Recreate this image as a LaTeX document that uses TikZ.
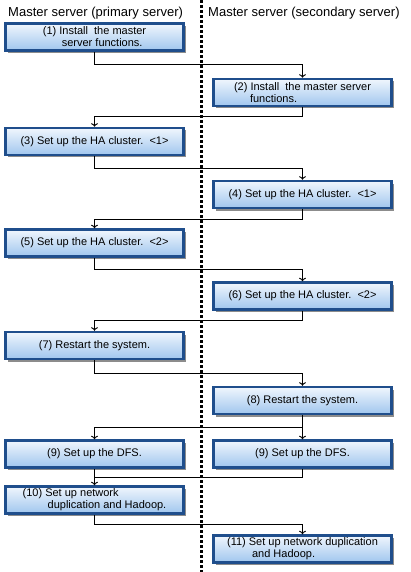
\documentclass[tikz,border=0pt]{standalone}
\usepackage{fontspec}
\setmainfont{Liberation Sans}
\usetikzlibrary{arrows.meta,shadows}
\definecolor{boxborder}{RGB}{31,78,140}
\definecolor{boxtop}{RGB}{240,246,253}
\definecolor{boxbot}{RGB}{160,198,238}
\begin{document}
\begin{tikzpicture}[x=1pt,y=-1pt,
  stepbox/.style={draw=boxborder, line width=2.5pt, top color=boxtop, bottom color=boxbot,
    minimum width=178pt, minimum height=27pt, inner sep=0pt, align=left,
    font=\fontsize{11}{12}\selectfont,
    drop shadow={shadow xshift=2.5pt, shadow yshift=-2.5pt, fill=black!45, opacity=1}},
  hdr/.style={font=\fontsize{13}{15}\selectfont, anchor=west, inner sep=0pt},
  arr/.style={line width=0.9pt, -{To[length=3.5pt,width=7pt]}},
  ln/.style={line width=0.9pt}]
\useasboundingbox (0,0) rectangle (410,572);
\fill[white] (0,0) rectangle (410,572);
% divider
\draw[line width=3pt, dash pattern=on 3pt off 2pt] (201,0) -- (201,572);
% headers
\node[hdr] (h1) at (8,13) {Master server (primary server)};
\node[hdr] (h2) at (208,13) {Master server (secondary server)};
% boxes
\node[stepbox] (b1) at (94.5,37) {(1) Install\ \ the master\\\hspace*{19pt}server functions.};
\node[stepbox] (b2) at (302.5,92.5) {(2) Install\ \ the master server\\\hspace*{16pt}functions.};
\node[stepbox] (b3) at (94.5,141.5) {(3) Set up the HA cluster.\ \ <1>};
\node[stepbox] (b4) at (302.5,194.5) {(4) Set up the HA cluster.\ \ <1>};
\node[stepbox] (b5) at (94.5,243) {(5) Set up the HA cluster.\ \ <2>};
\node[stepbox] (b6) at (302.5,296) {(6) Set up the HA cluster.\ \ <2>};
\node[stepbox] (b7) at (94.5,345.5) {(7) Restart the system.};
\node[stepbox] (b8) at (302.5,400.5) {(8) Restart the system.};
\node[stepbox] (b9l) at (94.5,454) {(9) Set up the DFS.};
\node[stepbox] (b9r) at (302.5,454) {(9) Set up the DFS.};
\node[stepbox] (b10) at (94.5,500) {(10) Set up network\\\hspace*{25pt}duplication and Hadoop.};
\node[stepbox] (b11) at (302.5,549) {(11) Set up network duplication\\\hspace*{25pt}and Hadoop.};
% junction levels
\coordinate (j1) at (0,64);
\coordinate (j2) at (0,116);
\coordinate (j3) at (0,168);
\coordinate (j4) at (0,219);
\coordinate (j5) at (0,269);
\coordinate (j6) at (0,320);
\coordinate (j7) at (0,373);
\coordinate (j8) at (0,427);
\coordinate (j9) at (0,477);
\coordinate (j10) at (0,524);
% connectors
\draw[arr] (b1.south) |- (j1 -| b2.north) -- (b2.north);
\draw[arr] (b2.south) |- (j2 -| b3.north) -- (b3.north);
\draw[arr] (b3.south) |- (j3 -| b4.north) -- (b4.north);
\draw[arr] (b4.south) |- (j4 -| b5.north) -- (b5.north);
\draw[arr] (b5.south) |- (j5 -| b6.north) -- (b6.north);
\draw[arr] (b6.south) |- (j6 -| b7.north) -- (b7.north);
\draw[arr] (b7.south) |- (j7 -| b8.north) -- (b8.north);
\draw[arr] (b8.south) -- (b9r.north);
\draw[arr] (j8 -| b8.south) -| (b9l.north);
\draw[arr] (b9l.south) -- (b10.north);
\draw[ln] (b9r.south) |- (j9 -| b10.north);
\draw[arr] (b10.south) |- (j10 -| b11.north) -- (b11.north);
\end{tikzpicture}
\end{document}
